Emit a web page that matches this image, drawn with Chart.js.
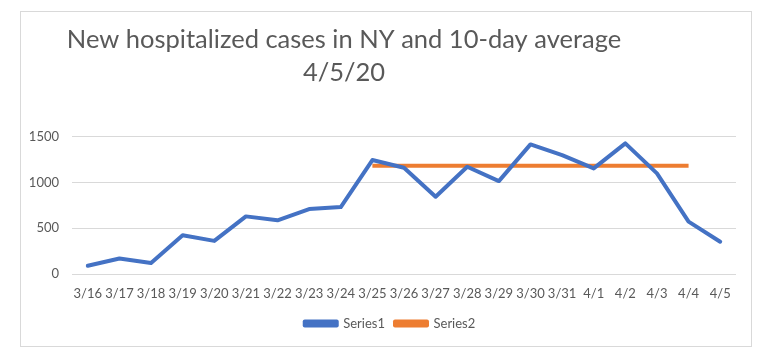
<!DOCTYPE html>
<html>
<head>
<meta charset="utf-8">
<script src="https://cdn.jsdelivr.net/npm/chart.js@4"></script>
<style>
  html, body { margin: 0; padding: 0; background: #ffffff; }
  #wrap { position: relative; width: 760px; height: 356px; }
</style>
</head>
<body>
<div id="wrap"><canvas id="c" width="760" height="356"></canvas></div>
<script>
const titleLines = ["New hospitalized cases in NY and 10-day average", "4/5/20"];
const categories = ["3/16","3/17","3/18","3/19","3/20","3/21","3/22","3/23","3/24","3/25","3/26","3/27","3/28","3/29","3/30","3/31","4/1","4/2","4/3","4/4","4/5"];
const series1 = [90, 170, 120, 424, 362, 630, 587, 710, 732, 1246, 1162, 845, 1173, 1016, 1417, 1300, 1155, 1428, 1100, 572, 353];
const series2 = [null, null, null, null, null, null, null, null, null, 1184, 1184, 1184, 1184, 1184, 1184, 1184, 1184, 1184, 1184, 1184, null];
const seriesNames = ["Series1", "Series2"];
const yTicks = [0, 500, 1000, 1500];

const FONT = "Lato, 'Open Sans', sans-serif";
const TEXT = "#595959";

const frame = {
  id: 'frame',
  beforeDraw(chart) {
    const ctx = chart.ctx;
    ctx.save();
    ctx.fillStyle = '#ffffff';
    ctx.fillRect(0, 0, chart.width, chart.height);
    ctx.strokeStyle = '#D9D9D9';
    ctx.lineWidth = 1;
    ctx.strokeRect(20.5, 11.5, 731, 335);
    ctx.restore();
  }
};

// shift the centring boxes of title and legend to match the original placement
const boxShift = {
  id: 'boxShift',
  afterLayout(chart) {
    const t = chart.titleBlock;
    if (t) { t.left = 20; t.right = 668; t.width = t.right - t.left; }
    const l = chart.legend;
    if (l) { l.left = 44; l.right = 736; l.width = l.right - l.left; }
  }
};

new Chart(document.getElementById('c'), {
  type: 'line',
  data: {
    labels: categories,
    datasets: [
      {
        label: seriesNames[0],
        data: series1,
        borderColor: '#4472C4',
        backgroundColor: '#4472C4',
        borderWidth: 4,
        pointRadius: 0,
        pointHoverRadius: 0,
        tension: 0,
        borderCapStyle: 'round',
        borderJoinStyle: 'round'
      },
      {
        label: seriesNames[1],
        data: series2,
        borderColor: '#ED7D31',
        backgroundColor: '#ED7D31',
        borderWidth: 4,
        pointRadius: 0,
        pointHoverRadius: 0,
        tension: 0,
        borderCapStyle: 'butt',
        borderJoinStyle: 'round'
      }
    ]
  },
  options: {
    responsive: false,
    animation: false,
    devicePixelRatio: 1,
    layout: { padding: { left: 20, right: 24, top: 0, bottom: 16 } },
    plugins: {
      title: {
        display: true,
        text: titleLines,
        color: TEXT,
        font: { family: FONT, size: 25.5, weight: 'normal', lineHeight: 1.31 },
        padding: { top: 23, bottom: 47 }
      },
      legend: {
        display: true,
        position: 'bottom',
        labels: {
          color: TEXT,
          font: { family: FONT, size: 13 },
          boxWidth: 32,
          boxHeight: 4,
          padding: 10
        }
      },
      tooltip: { enabled: false }
    },
    scales: {
      x: {
        offset: true,
        grid: { display: false, drawTicks: false },
        border: { display: false },
        ticks: { color: TEXT, font: { family: FONT, size: 13 }, padding: 12, maxRotation: 0, autoSkip: false },
        afterFit(scale) { scale.height = 33; }
      },
      y: {
        min: 0,
        max: 1500,
        afterBuildTicks(scale) { scale.ticks = yTicks.map(v => ({ value: v })); },
        grid: { color: '#D9D9D9', lineWidth: 1, drawTicks: false },
        border: { display: false },
        ticks: { color: TEXT, font: { family: FONT, size: 13 }, padding: 13, callback: (v) => String(v) },
        afterFit(scale) { scale.width = 52; }
      }
    }
  },
  plugins: [frame, boxShift]
});
</script>
</body>
</html>
